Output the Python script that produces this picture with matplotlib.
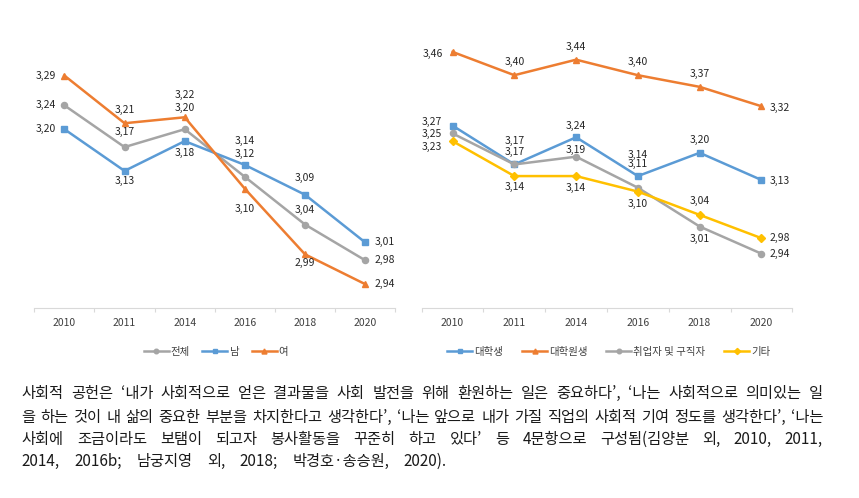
import matplotlib
matplotlib.use("Agg")
import matplotlib.pyplot as plt

plt.rcParams['font.family'] = ['Noto Sans CJK KR', 'DejaVu Sans']

# Datos
anios = ['2010', '2011', '2014', '2016', '2018', '2020']

nombres_izq = ['전체', '남', '여']
total = [3.24, 3.17, 3.20, 3.12, 3.04, 2.98]
hombres = [3.20, 3.13, 3.18, 3.14, 3.09, 3.01]
mujeres = [3.29, 3.21, 3.22, 3.10, 2.99, 2.94]

nombres_der = ['대학생', '대학원생', '취업자 및 구직자', '기타']
universitarios = [3.27, 3.17, 3.24, 3.14, 3.20, 3.13]
posgrado = [3.46, 3.40, 3.44, 3.40, 3.37, 3.32]
empleados = [3.25, 3.17, 3.19, 3.11, 3.01, 2.94]
otros = [3.23, 3.14, 3.14, 3.10, 3.04, 2.98]

nota = [
    "사회적 공헌은 ‘내가 사회적으로 얻은 결과물을 사회 발전을 위해 환원하는 일은 중요하다’, ‘나는 사회적으로 의미있는 일",
    "을 하는 것이 내 삶의 중요한 부분을 차지한다고 생각한다’, ‘나는 앞으로 내가 가질 직업의 사회적 기여 정도를 생각한다’, ‘나는",
    "사회에 조금이라도 보탬이 되고자 봉사활동을 꾸준히 하고 있다’ 등 4문항으로 구성됨(김양분 외, 2010, 2011,",
    "2014, 2016b; 남궁지영 외, 2018; 박경호·송승원, 2020).",
]

GRIS = '#A5A5A5'
AZUL = '#5B9BD5'
NARANJA = '#ED7D31'
AMARILLO = '#FFC000'

W, H = 859, 498

# posicion de etiquetas: (ha, dx, dy) en pixeles
etq_izq = [
    [('right', -8, 0), ('center', 0, 15), ('center', 0, 21), ('center', 0, 23), ('center', 0, 15), ('left', 9, 0)],
    [('right', -8, 0), ('center', 0, -10), ('center', 0, -12), ('center', 0, 24), ('center', 0, 17), ('left', 9, 0)],
    [('right', -8, 0), ('center', 0, 13), ('center', 0, 22), ('center', 0, -20), ('center', 0, -9), ('left', 9, 0)],
]
etq_der = [
    [('right', -11, 4), ('center', 0, 23), ('center', 0, 11), ('center', 0, 21), ('center', 0, 13), ('left', 8, -1)],
    [('right', -10, -2), ('center', 0, 13), ('center', 0, 13), ('center', 0, 13), ('center', 0, 13), ('left', 8, -2)],
    [('right', -11, -1), ('center', 0, 12), ('center', 0, 7), ('center', 0, 24), ('center', 0, -12), ('left', 8, 0)],
    [('right', -11, -6), ('center', 0, -11), ('center', 0, -12), ('center', 0, -12), ('center', 0, 14), ('left', 8, 0)],
]


def formato(v):
    return f"{v:.2f}".replace('.', ',')


def graficar(ax, series, nombres, colores, marcadores, tamanos, etiquetas, ymin, ymax):
    x = list(range(len(anios)))
    for datos, nombre, color, m, ms, etq in zip(series, nombres, colores, marcadores, tamanos, etiquetas):
        ax.plot(x, datos, color=color, lw=1.8, marker=m, ms=ms, mfc=color, mec=color, label=nombre)
        for i, v in enumerate(datos):
            ha, dx, dy = etq[i]
            ax.annotate(formato(v), (x[i], v), xytext=(dx, dy), textcoords='offset pixels',
                        ha=ha, va='center', fontsize=7.5, color='#262626')
    ax.set_xlim(-0.5, len(anios) - 0.5)
    ax.set_ylim(ymin, ymax)
    ax.set_xticks(x)
    ax.set_xticklabels(anios)
    ax.set_xticks([i - 0.5 for i in range(len(anios) + 1)], minor=True)
    ax.tick_params(axis='x', which='major', length=0, pad=7, labelsize=7.5, labelcolor='#404040')
    ax.tick_params(axis='x', which='minor', length=3, color='#D9D9D9', width=0.8)
    ax.set_yticks([])
    for lado in ['top', 'right', 'left']:
        ax.spines[lado].set_visible(False)
    ax.spines['bottom'].set_color('#D9D9D9')
    ax.spines['bottom'].set_linewidth(0.8)


fig = plt.figure(figsize=(W / 100, H / 100), dpi=100)

abajo = 1 - 308 / H
alto = 278 / H
ax1 = fig.add_axes([34.3 / W, abajo, 361 / W, alto])
ax2 = fig.add_axes([421.7 / W, abajo, 370.6 / W, alto])

graficar(ax1, [total, hombres, mujeres], nombres_izq, [GRIS, AZUL, NARANJA],
         ['o', 's', '^'], [4.4, 4.4, 4.8], etq_izq, 2.9, 2.9 + 278 / 596)
graficar(ax2, [universitarios, posgrado, empleados, otros], nombres_der,
         [AZUL, NARANJA, GRIS, AMARILLO], ['s', '^', 'o', 'D'], [4.4, 4.8, 4.4, 4.2],
         etq_der, 2.8, 2.8 + 278 / 388)

for ax, cx, sep in [(ax1, 216, 1.2), (ax2, 609, 1.8)]:
    h, l = ax.get_legend_handles_labels()
    fig.legend(h, l, loc='center', bbox_to_anchor=(cx / W, 1 - 352 / H), ncol=len(l),
               frameon=False, fontsize=7.5, handlelength=2.4, handletextpad=0.2,
               columnspacing=sep, markerscale=0.75, labelcolor='#404040')

# nota al pie justificada
renderer = fig.canvas.get_renderer()
y_lineas = [393, 417, 439, 461]
x_ini, x_fin = 21.7, 823
for n, (linea, yl) in enumerate(zip(nota, y_lineas)):
    palabras = linea.split(' ')
    textos = [fig.text(0, 1 - yl / H, p, fontsize=11, va='center', ha='left', color='#1a1a1a')
              for p in palabras]
    anchos = [t.get_window_extent(renderer).width for t in textos]
    fin = x_fin if n < len(nota) - 1 else 447
    hueco = (fin - x_ini - sum(anchos)) / (len(palabras) - 1)
    xp = x_ini
    for t, a in zip(textos, anchos):
        t.set_x(xp / W)
        xp += a + hueco

fig.savefig('out.png', dpi=100)
